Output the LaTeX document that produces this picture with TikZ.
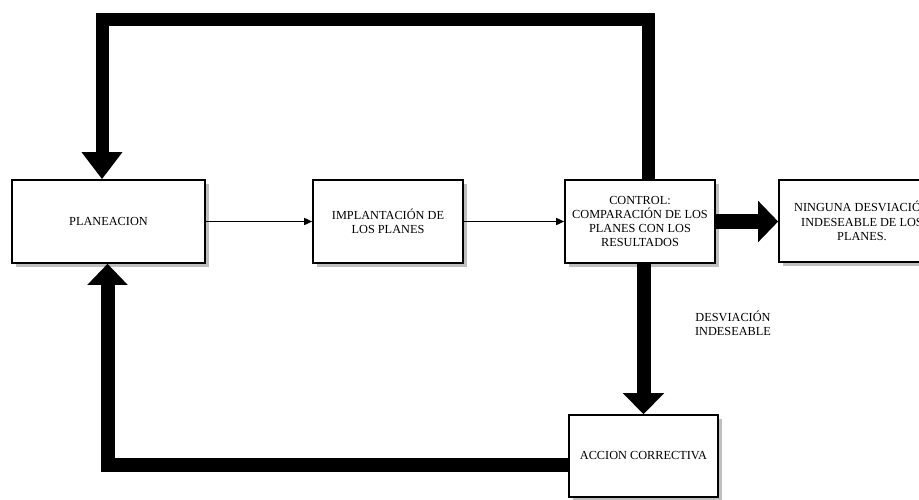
\documentclass[tikz,border=0pt]{standalone}
\usepackage{fontspec}
\setmainfont{Liberation Serif}
\usetikzlibrary{arrows.meta,shadows}

\tikzset{
  stepbox/.style={draw, line width=1.6pt, fill=white, align=center, inner sep=2pt,
    font=\fontsize{12.3}{14.3}\selectfont,
    drop shadow={shadow xshift=4pt, shadow yshift=-4pt, fill=black!25, opacity=1}},
  flowline/.style={line width=1.5pt, -{Triangle[length=8pt,width=7pt]}},
  bigarrow/.style={line width=14pt, line join=miter, -{Triangle[length=21pt,width=40pt]}},
  note/.style={align=center, inner sep=0pt, font=\fontsize{12.3}{14.3}\selectfont}
}

\begin{document}
\begin{tikzpicture}[x=1pt,y=-1pt]
\useasboundingbox (0,0) rectangle (919,499);

% process boxes
\node[stepbox, minimum width=193pt, minimum height=83pt] (planeacion) at (108.5,221.5) {PLANEACION};
\node[stepbox, minimum width=150pt, minimum height=83pt] (implant) at (388,221.5) {IMPLANTACIÓN DE\\LOS PLANES};
\node[stepbox, minimum width=150pt, minimum height=83pt] (control) at (640,221.5)
  {CONTROL:\\COMPARACIÓN DE LOS\\PLANES CON LOS\\RESULTADOS};
\node[stepbox, minimum width=166pt, minimum height=82pt] (ninguna) at (862,221)
  {NINGUNA DESVIACIÓN\\INDESEABLE DE LOS\\PLANES.};
\node[stepbox, minimum width=149pt, minimum height=82pt] (accion) at (643.5,456) {ACCION CORRECTIVA};

% label of the deviation branch
\node[note] (desv) at (733,323) {DESVIACIÓN\\INDESEABLE};

% main flow
\draw[flowline] (planeacion) -- (implant);
\draw[flowline] (implant) -- (control);

% outcome arrows
\draw[bigarrow, line width=15pt, -{Triangle[length=20pt,width=40pt]}] (control.east) -- (ninguna.west |- control.east);
\draw[bigarrow] (control.south -| accion.north) -- (accion.north);

% feedback loop over the top
\coordinate (tr) at (648,19);
\coordinate (tl) at (102,19);
\draw[bigarrow, line width=13pt, -{Triangle[length=27pt,width=39pt]}]
  ([xshift=8pt]control.north) -- (tr) -- (tl) -- (tl |- planeacion.north);

% corrective loop along the bottom
\coordinate (bl) at (107.5,464.5);
\draw[bigarrow, -{Triangle[length=21pt,width=39pt]}]
  (accion.west |- bl) -- (bl) -- (bl |- planeacion.south);
\end{tikzpicture}
\end{document}
